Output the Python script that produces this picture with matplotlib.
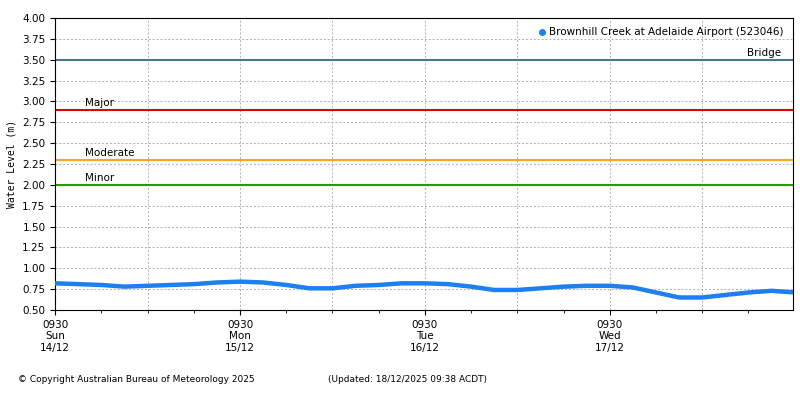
import matplotlib
matplotlib.use("Agg")
import matplotlib.pyplot as plt
from matplotlib.lines import Line2D
import numpy as np

hours = [i*3 for i in range(33)]
level = [0.82,0.81,0.80,0.78,0.79,0.80,0.81,0.83,0.84,0.83,0.80,0.76,0.76,0.79,0.80,0.82,
         0.82,0.81,0.78,0.74,0.74,0.76,0.78,0.79,0.79,0.77,0.71,0.65,0.65,0.68,0.71,0.73,0.71]
thresh_names = ["Bridge","Major","Moderate","Minor"]
thresh_vals = [3.5,2.9,2.3,2.0]
thresh_cols = ["#4a7888","#e00000","#f5a623","#2a9a00"]
xlabels = ["0930\nSun\n14/12","0930\nMon\n15/12","0930\nTue\n16/12","0930\nWed\n17/12"]

fig = plt.figure(figsize=(8,4), dpi=100)
ax = fig.add_axes([0.069,0.225,0.922,0.73])
x = np.array(hours)/24
ax.plot(x, level, color="#1e7ff0", lw=3.2, solid_capstyle="round", zorder=3)
for n,v,c in zip(thresh_names,thresh_vals,thresh_cols):
    ax.axhline(v,color=c,lw=1.5,zorder=2)
    if n=="Bridge":
        ax.text(3.74,v+0.02,n,fontsize=7.5,va="bottom")
    else:
        ax.text(0.16,v+0.02,n,fontsize=7.5,va="bottom")
ax.set_xlim(0,3.99)
ax.set_ylim(0.5,4.0)
ax.set_yticks(np.arange(0.5,4.01,0.25))
ax.set_yticklabels([f"{v:.2f}" for v in np.arange(0.5,4.01,0.25)],fontsize=7.5)
ax.set_xticks([0,1,2,3])
ax.set_xticklabels(xlabels,fontsize=7.5)
ax.set_xticks(np.arange(0,4,0.25),minor=True)
ax.grid(True,axis="y",color="#b0b0b0",ls=(0,(2,2)),lw=0.7)
for d in np.arange(0.5,4,0.5):
    ax.axvline(d,color="#b0b0b0",ls=(0,(2,2)),lw=0.7,zorder=1)
ax.set_ylabel("Water Level (m)",fontsize=7,family="DejaVu Sans Mono")
h = Line2D([],[],color="#1e7ff0",marker="o",ls="",markersize=4)
ax.legend([h],["Brownhill Creek at Adelaide Airport (523046)"],loc="upper right",
          fontsize=7.5,frameon=False,handlelength=0.8,handletextpad=0.3)
fig.text(0.022,0.045,"© Copyright Australian Bureau of Meteorology 2025",fontsize=6.5)
fig.text(0.41,0.045,"(Updated: 18/12/2025 09:38 ACDT)",fontsize=6.5)
fig.savefig("out.png")
